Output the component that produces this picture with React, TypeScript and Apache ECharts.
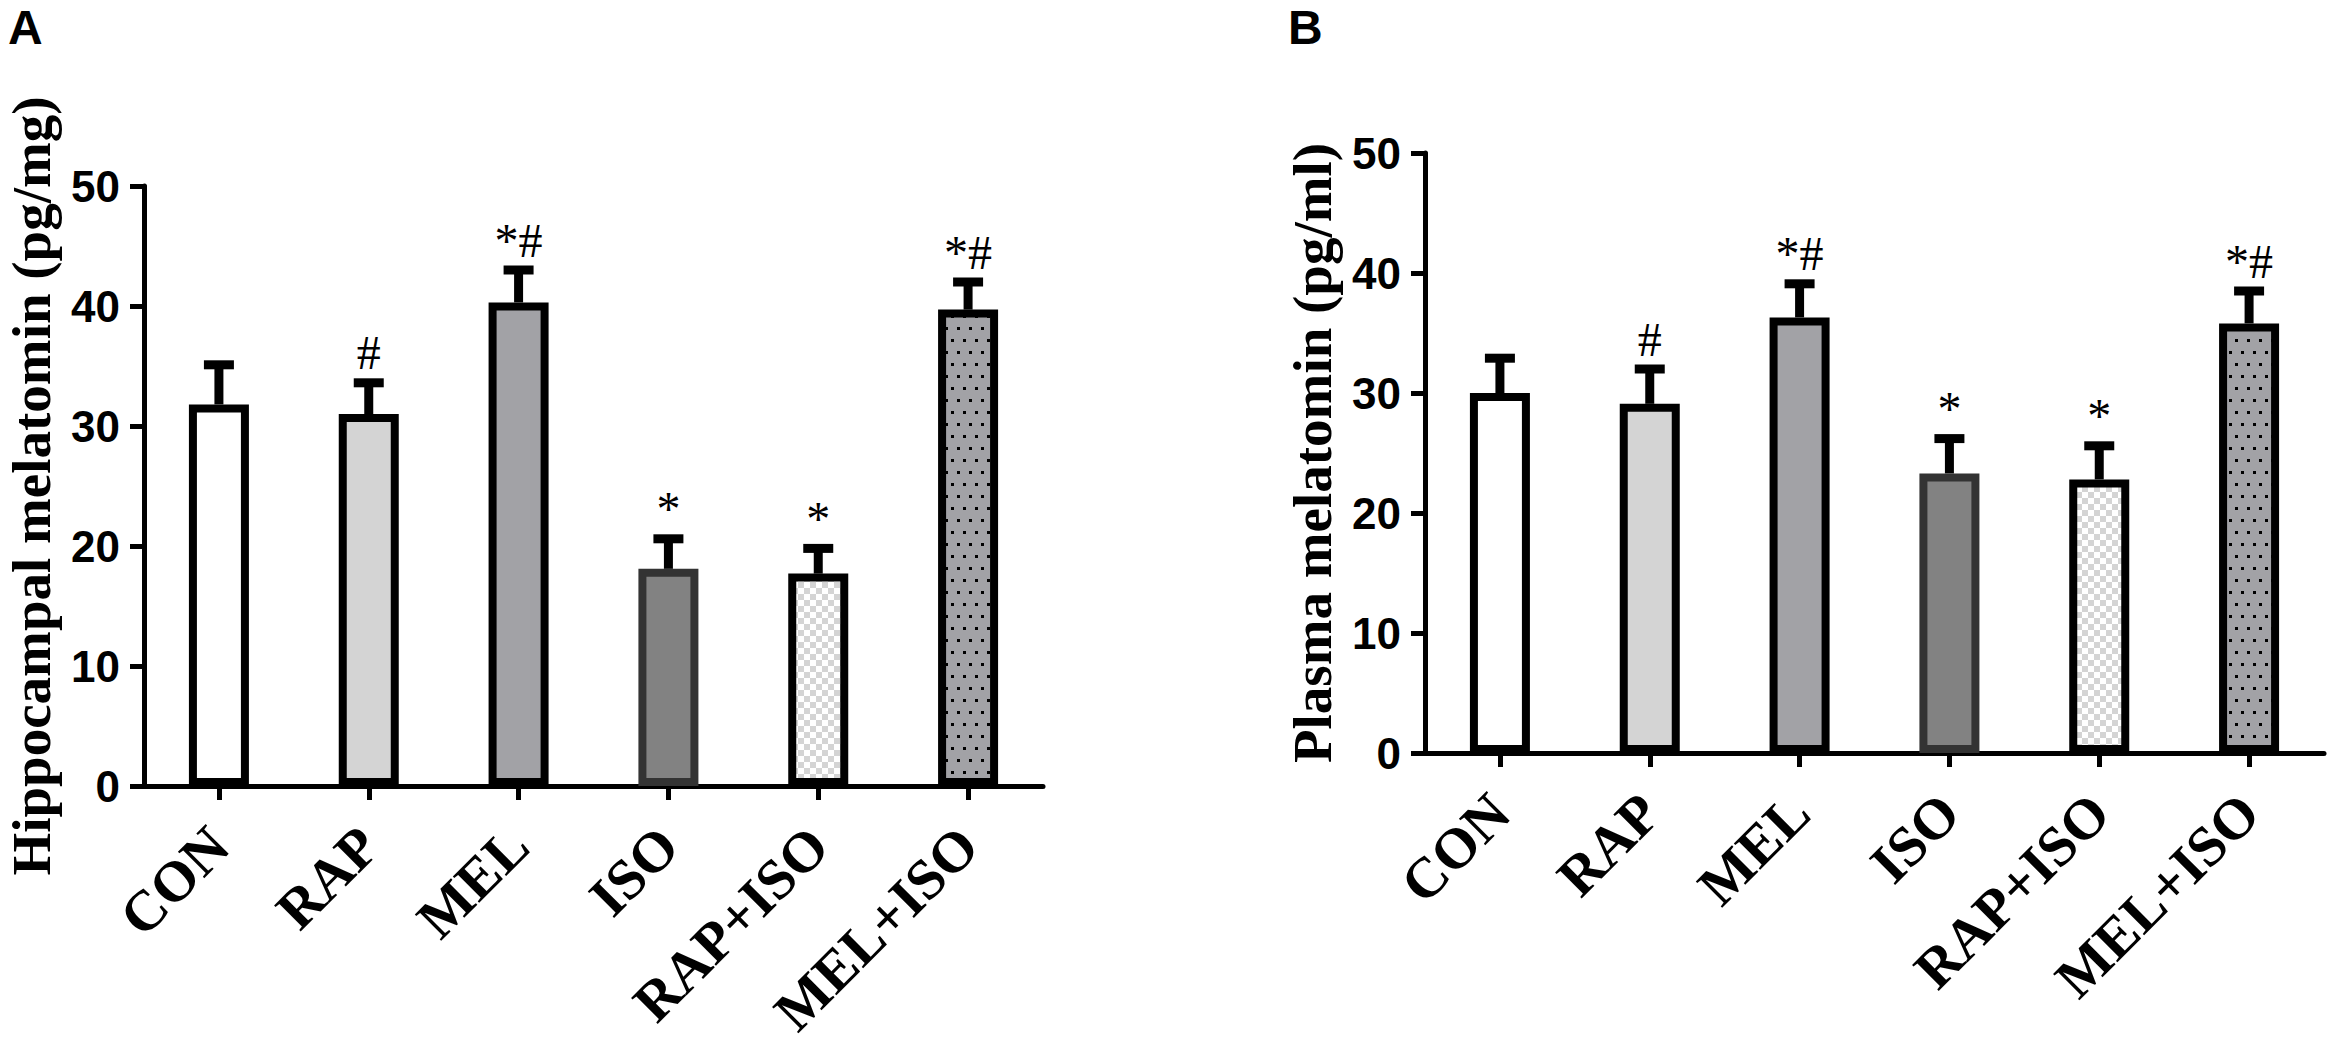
import React, { useEffect, useRef } from "react";
import * as echarts from "echarts";

const categories = ["CON", "RAP", "MEL", "ISO", "RAP+ISO", "MEL+ISO"];
const hippoMean = [31.8, 31.0, 40.3, 18.1, 17.7, 39.7];
const hippoTop = [35.1, 33.6, 43.0, 20.6, 19.8, 42.0];
const plasmaMean = [30.0, 29.1, 36.3, 23.3, 22.8, 35.8];
const plasmaTop = [32.9, 32.0, 39.1, 26.2, 25.6, 38.5];
const sigLabels = ["", "#", "*#", "*", "*", "*#"];
const panelLetters = ["A", "B"];
const yTitles = ["Hippocampal melatomin (pg/mg)", "Plasma melatomin (pg/ml)"];

function makeChecker(): HTMLCanvasElement {
  const c = document.createElement("canvas");
  c.width = 12;
  c.height = 12;
  const g = c.getContext("2d")!;
  g.fillStyle = "#ffffff";
  g.fillRect(0, 0, 12, 12);
  g.fillStyle = "#d4d4d4";
  g.fillRect(0, 0, 6, 6);
  g.fillRect(6, 6, 6, 6);
  return c;
}

function makeDots(): HTMLCanvasElement {
  const c = document.createElement("canvas");
  c.width = 12;
  c.height = 24;
  const g = c.getContext("2d")!;
  g.fillStyle = "#a2a2a6";
  g.fillRect(0, 0, 12, 24);
  g.fillStyle = "#000000";
  g.fillRect(3, 3, 3, 3);
  g.fillRect(9, 15, 3, 3);
  return c;
}

export default function App() {
  const ref = useRef<HTMLDivElement>(null);

  useEffect(() => {
    document.body.style.margin = "0";
    if (!ref.current) return;
    const chart = echarts.init(ref.current, null, { renderer: "svg" });

    const checker = { image: makeChecker(), repeat: "repeat" };
    const dots = { image: makeDots(), repeat: "repeat" };
    const styles: any[] = [
      { color: "#ffffff", borderColor: "#000000" },
      { color: "#d4d4d4", borderColor: "#000000" },
      { color: "#a2a2a6", borderColor: "#000000" },
      { color: "#828282", borderColor: "#333333" },
      { color: checker, borderColor: "#000000" },
      { color: dots, borderColor: "#000000" },
    ];

    const grids = [
      { left: 144, top: 186, width: 899, height: 600 },
      { left: 1425, top: 153, width: 899, height: 600 },
    ];

    const means = [hippoMean, plasmaMean];
    const tops = [hippoTop, plasmaTop];

    const xAxes = grids.map((_, gi) => ({
      type: "category",
      gridIndex: gi,
      data: categories,
      boundaryGap: true,
      axisLine: { show: true, lineStyle: { color: "#000", width: 5 } },
      axisTick: { show: true, alignWithLabel: true, length: 14, lineStyle: { color: "#000", width: 5 } },
      axisLabel: {
        interval: 0,
        rotate: 45,
        margin: 50,
        color: "#000",
        fontFamily: "Liberation Serif",
        fontWeight: "bold",
        fontSize: 57,
      },
      splitLine: { show: false },
    }));

    const yAxes = grids.map((_, gi) => ({
      type: "value",
      gridIndex: gi,
      min: 0,
      max: 50,
      interval: 10,
      name: yTitles[gi],
      nameLocation: "middle",
      nameGap: 85,
      nameTextStyle: {
        color: "#000",
        fontFamily: "Liberation Serif",
        fontWeight: "bold",
        fontSize: 55,
      },
      axisLine: { show: true, lineStyle: { color: "#000", width: 5 } },
      axisTick: { show: true, length: 14, lineStyle: { color: "#000", width: 5 } },
      axisLabel: {
        margin: 24,
        color: "#000",
        fontFamily: "Liberation Sans",
        fontWeight: "bold",
        fontSize: 44,
      },
      splitLine: { show: false },
    }));

    const series: any[] = [];
    grids.forEach((_, gi) => {
      series.push({
        type: "bar",
        xAxisIndex: gi,
        yAxisIndex: gi,
        barWidth: 60,
        z: 2,
        data: means[gi].map((v, i) => ({
          value: v,
          itemStyle: { ...styles[i], borderWidth: 8 },
        })),
      });
      series.push({
        type: "custom",
        xAxisIndex: gi,
        yAxisIndex: gi,
        z: 3,
        encode: { x: 0, y: [1, 2] },
        data: means[gi].map((v, i) => [i, v, tops[gi][i]]),
        renderItem: (params: any, api: any) => {
          const idx = api.value(0);
          const p0 = api.coord([idx, api.value(1)]);
          const p1 = api.coord([idx, api.value(2)]);
          const label = sigLabels[params.dataIndex];
          const children: any[] = [
            {
              type: "line",
              shape: { x1: p0[0], y1: p0[1], x2: p1[0], y2: p1[1] },
              style: { stroke: "#000", lineWidth: 9, lineCap: "butt" },
            },
            {
              type: "line",
              shape: { x1: p1[0] - 15, y1: p1[1], x2: p1[0] + 15, y2: p1[1] },
              style: { stroke: "#000", lineWidth: 9, lineCap: "butt" },
            },
          ];
          if (label) {
            children.push({
              type: "text",
              x: p1[0],
              y: p1[1] - 6,
              style: {
                text: label,
                align: "center",
                verticalAlign: "bottom",
                textAlign: "center",
                textVerticalAlign: "bottom",
                font: '48px "Liberation Serif"',
                fill: "#000",
              },
            });
          }
          return { type: "group", children };
        },
      });
    });

    chart.setOption({
      animation: false,
      backgroundColor: "#ffffff",
      title: [
        {
          text: panelLetters[0],
          left: 8,
          top: 3,
          padding: 0,
          textStyle: { fontFamily: "Liberation Sans", fontWeight: "bold", fontSize: 48, color: "#000" },
        },
        {
          text: panelLetters[1],
          left: 1288,
          top: 3,
          padding: 0,
          textStyle: { fontFamily: "Liberation Sans", fontWeight: "bold", fontSize: 48, color: "#000" },
        },
      ],
      grid: grids,
      xAxis: xAxes,
      yAxis: yAxes,
      series,
    });

    return () => chart.dispose();
  }, []);

  return <div ref={ref} style={{ width: 2332, height: 1043 }} />;
}
